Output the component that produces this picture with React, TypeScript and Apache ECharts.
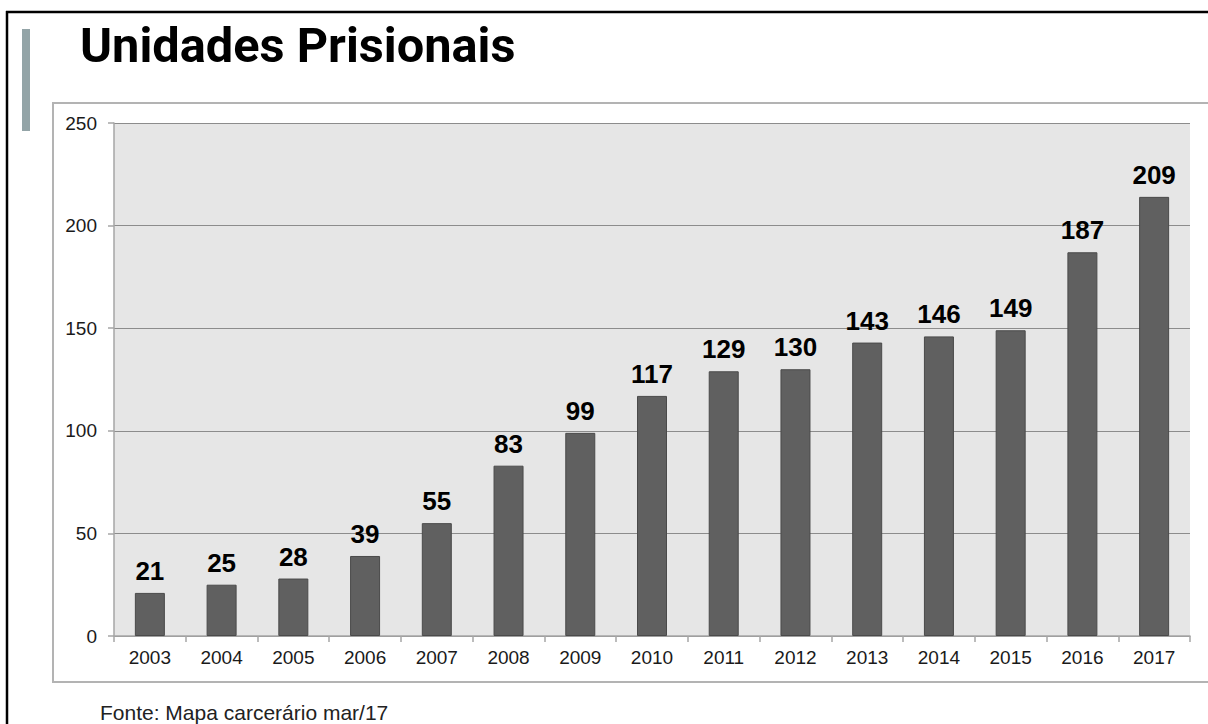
import React, { useEffect, useRef } from "react";
import * as echarts from "echarts";

const anos = ["2003", "2004", "2005", "2006", "2007", "2008", "2009", "2010", "2011", "2012", "2013", "2014", "2015", "2016", "2017"];
// bar heights as drawn in the picture (the 2017 bar is drawn at ~214 while its label reads 209)
const alturas = [21, 25, 28, 39, 55, 83, 99, 117, 129, 130, 143, 146, 149, 187, 214];
const rotulos = ["21", "25", "28", "39", "55", "83", "99", "117", "129", "130", "143", "146", "149", "187", "209"];
const yTicks = [0, 50, 100, 150, 200, 250];

const titulo = "Unidades Prisionais";
const fonte = "Fonte: Mapa carcerário mar/17";

export default function App() {
  const ref = useRef<HTMLDivElement>(null);
  useEffect(() => {
    if (!ref.current) return;
    const chart = echarts.init(ref.current, null, { renderer: "svg" });
    const font = "'Liberation Sans', Arial, sans-serif";
    chart.setOption({
      animation: false,
      backgroundColor: "#ffffff",
      grid: {
        left: 114,
        top: 123,
        width: 1076,
        height: 513,
        show: true,
        backgroundColor: "#e6e6e6",
        borderWidth: 0,
        containLabel: false,
      },
      xAxis: {
        type: "category",
        data: anos,
        axisLine: { show: true, lineStyle: { color: "#a6a6a6", width: 1.5 } },
        axisTick: { show: true, length: 6, lineStyle: { color: "#a6a6a6", width: 1.5 } },
        axisLabel: { color: "#1a1a1a", fontSize: 19, fontFamily: font, margin: 12 },
        splitLine: { show: false },
      },
      yAxis: {
        type: "value",
        min: yTicks[0],
        max: yTicks[yTicks.length - 1],
        interval: 50,
        axisLine: { show: true, lineStyle: { color: "#a6a6a6", width: 1.5 } },
        axisTick: { show: true, length: 6, lineStyle: { color: "#a6a6a6", width: 1.5 } },
        axisLabel: { color: "#1a1a1a", fontSize: 19, fontFamily: font, margin: 17 },
        splitLine: { show: true, lineStyle: { color: "#8c8c8c", width: 1.2 } },
      },
      series: [
        {
          type: "bar",
          data: alturas,
          barWidth: 30,
          itemStyle: { color: "#606060", borderColor: "#4a4a4a", borderWidth: 1 },
          label: {
            show: true,
            position: "top",
            distance: 9,
            color: "#000000",
            fontSize: 26,
            fontWeight: "bold",
            fontFamily: font,
            formatter: (p: any) => rotulos[p.dataIndex],
          },
        },
      ],
      graphic: [
        { type: "line", shape: { x1: 6, y1: 12, x2: 1208, y2: 12 }, style: { stroke: "#000", lineWidth: 2.5 } },
        { type: "line", shape: { x1: 7, y1: 11, x2: 7, y2: 724 }, style: { stroke: "#000", lineWidth: 2.5 } },
        { type: "rect", shape: { x: 22, y: 29, width: 8, height: 102 }, style: { fill: "#93a4a7" } },
        {
          type: "rect",
          shape: { x: 53, y: 103, width: 1170, height: 579 },
          style: { fill: "none", stroke: "#b3b3b3", lineWidth: 2 },
          z: -1,
        },
        {
          type: "text",
          x: 80,
          y: 46,
          scaleX: 1.015,
          style: {
            text: titulo,
            fontFamily: "Roboto, 'DejaVu Sans', sans-serif",
            fontWeight: "bold",
            fontSize: 48,
            fill: "#000",
            verticalAlign: "middle",
            align: "left",
          },
        },
        {
          type: "text",
          x: 100,
          y: 712,
          style: {
            text: fonte,
            fontFamily: font,
            fontSize: 21,
            fill: "#222",
            verticalAlign: "middle",
            align: "left",
          },
        },
      ],
    });
    return () => chart.dispose();
  }, []);
  return (
    <div
      ref={ref}
      style={{ position: "fixed", left: 0, top: 0, width: 1208, height: 724 }}
    />
  );
}
